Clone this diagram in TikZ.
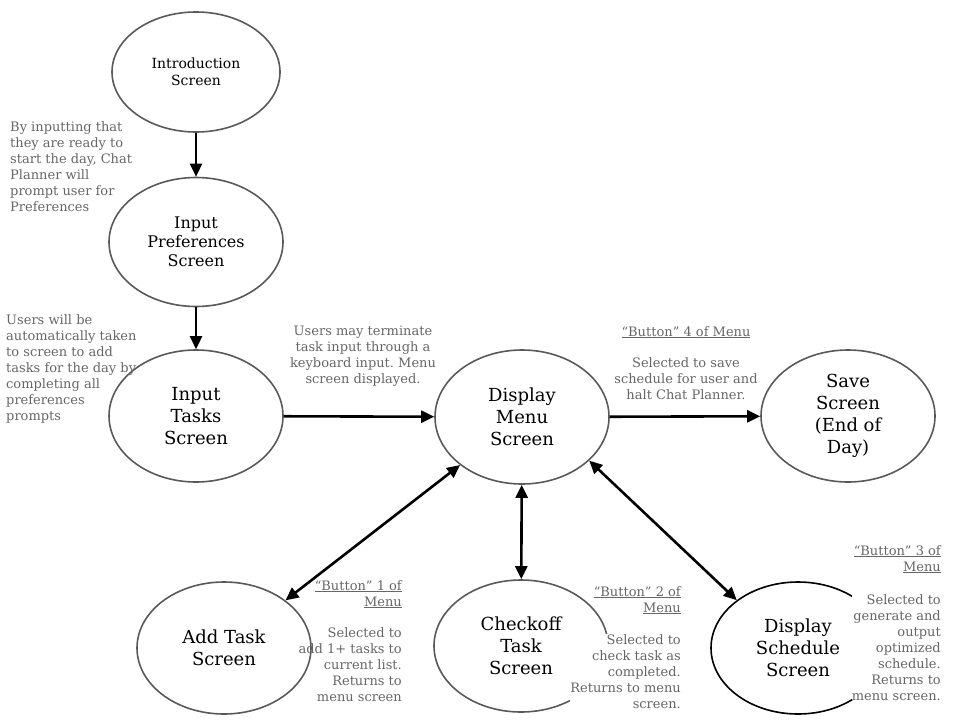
\documentclass[tikz,border=0pt]{standalone}
\usepackage{fontspec}
\setmainfont{DejaVu Serif}
\usetikzlibrary{shapes.geometric, arrows.meta, positioning}
\definecolor{planline}{HTML}{595959}
\definecolor{plannote}{HTML}{666666}
\frenchspacing

\tikzset{
  screen/.style={ellipse, draw=planline, line width=1.6pt, minimum width=174pt,
    minimum height=132pt, inner sep=0pt, align=center, font=\fontsize{18}{22}\selectfont},
  flow/.style={line width=2.6pt, -{Triangle[length=13pt,width=12pt]}},
  twoway/.style={line width=2.6pt, {Triangle[length=13pt,width=12pt]}-{Triangle[length=13pt,width=12pt]}},
  note/.style={text=plannote, inner sep=0pt, font=\fontsize{13}{16}\selectfont}
}

\begin{document}
\begin{tikzpicture}[x=1pt, y=-1pt]
  \useasboundingbox (0,0) rectangle (960,720);

  % Screens
  \node[screen, minimum width=168pt, minimum height=120pt, font=\fontsize{14}{17}\selectfont]
    (intro) at (196,72) {Introduction\\Screen};
  \node[screen, minimum height=129pt, font=\fontsize{16}{19}\selectfont]
    (prefs) at (196,242) {Input\\Preferences\\Screen};
  \node[screen] (tasks) at (196,416) {Input\\Tasks\\Screen};
  \node[screen, minimum height=134pt] (menu) at (522,417) {Display\\Menu\\Screen};
  \node[screen] (save) at (848,416) {Save\\Screen\\(End of\\Day)};
  \node[screen] (addtask) at (224,648) {Add Task\\Screen};
  \node[screen] (checkoff) at (521,646) {Checkoff\\Task\\Screen};
  \node[screen, draw=black] (schedule) at (798,648) {Display\\Schedule\\Screen};

  % Flow between screens
  \draw[flow] (intro) -- (prefs);
  \draw[flow] (prefs) -- (tasks);
  \draw[flow] (tasks) -- (menu);
  \draw[flow] (menu) -- (save);
  \draw[twoway] (menu) -- (addtask);
  \draw[twoway] (menu) -- (checkoff);
  \draw[twoway] (menu.-33) -- (schedule.142);

  % Notes
  \node[note, anchor=north west, align=left] (prefsnote) at (10,121)
    {By inputting that\\they are ready to\\start the day, Chat\\Planner will\\prompt user for\\Preferences};
  \node[note, anchor=north west, align=left] (tasksnote) at (6,314)
    {Users will be\\automatically taken\\to screen to add\\tasks for the day by\\completing all\\preferences\\prompts};
  \node[note, anchor=north, align=center] (menunote) at (363,326)
    {Users may terminate\\task input through a\\keyboard input. Menu\\screen displayed.};
  \node[note, anchor=north, align=center] (savenote) at (686,326)
    {\underline{“Button” 4 of Menu}\\[15pt]Selected to save\\schedule for user and\\halt Chat Planner.};

  % Button notes
  \node[note, anchor=north east, align=right] (addhead) at (402,580)
    {\underline{“Button” 1 of}\\\underline{Menu}};
  \node[note, anchor=north east, align=right] (addnote) at (402,627)
    {Selected to\\add 1+ tasks to\\current list.\\Returns to\\menu screen};
  \node[note, anchor=north east, align=right] (checkhead) at (681,586)
    {\underline{“Button” 2 of}\\\underline{Menu}};
  \node[note, anchor=north east, align=right, fill=white] (checknote) at (681,634)
    {Selected to\\check task as\\completed.\\Returns to menu\\screen.};
  \node[note, anchor=north east, align=right] (schedhead) at (941,545)
    {\underline{“Button” 3 of}\\\underline{Menu}};
  \node[note, anchor=north east, align=right, fill=white] (schednote) at (941,594)
    {Selected to\\generate and\\output\\optimized\\schedule.\\Returns to\\menu screen.};
\end{tikzpicture}
\end{document}
